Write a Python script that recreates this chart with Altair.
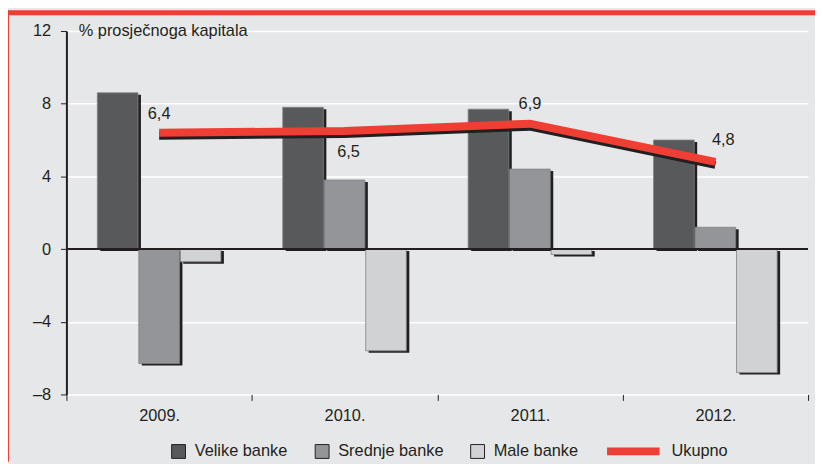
import altair as alt
import pandas as pd

godine = ["2009.", "2010.", "2011.", "2012."]
skupine = ["Velike banke", "Srednje banke", "Male banke"]
velike = [8.6, 7.8, 7.7, 6.0]
srednje = [-6.3, 3.8, 4.4, 1.2]
male = [-0.7, -5.6, -0.3, -6.8]
ukupno = [6.4, 6.5, 6.9, 4.8]
ukupno_oznake = ["6,4", "6,5", "6,9", "4,8"]
y_ticks = [-8, -4, 0, 4, 8, 12]

boje = ["#58595b", "#939598", "#d1d2d4"]
crvena = "#ef3e33"
tamna = "#231f20"
pozadina = "#e6e7e8"
FONT = "Liberation Sans"
FS = 16.5

rows = []
for i, g in enumerate(godine):
    for s, vals in zip(skupine, [velike, srednje, male]):
        rows.append({"godina": g, "skupina": s, "vrijednost": vals[i]})
bars_df = pd.DataFrame(rows)

line_df = pd.DataFrame({
    "godina": godine,
    "vrijednost": ukupno,
    "oznaka": ukupno_oznake,
    "serija": ["Ukupno"] * len(godine),
})

# label placement (style only)
label_style = {
    "2009.": (0, -19),
    "2010.": (4, 21),
    "2011.": (0, -20),
    "2012.": (8, -22),
}

x_enc = alt.X(
    "godina:N",
    sort=godine,
    scale=alt.Scale(domain=godine, paddingInner=0, paddingOuter=0),
    axis=alt.Axis(
        title=None, labelAngle=0, tickBand="extent", domain=False, grid=False,
        tickColor=tamna, tickSize=6, tickWidth=1, labelPadding=7,
        labelFontSize=FS, labelColor=tamna, labelFont=FONT,
    ),
)
y_enc = alt.Y(
    "vrijednost:Q",
    scale=alt.Scale(domain=[-8, 12], nice=False, zero=False),
    axis=alt.Axis(
        values=y_ticks,
        title="% prosječnoga kapitala", titleAngle=0, titleX=12, titleY=0,
        titleAlign="left", titleBaseline="middle", titleFontWeight="normal",
        titleFontSize=FS, titleColor=tamna, titleFont=FONT,
        grid=True, gridColor="white", gridWidth=1.5,
        domainColor=tamna, domainWidth=2,
        tickColor=tamna, tickSize=6, tickWidth=1,
        labelPadding=10, labelFontSize=FS, labelColor=tamna, labelFont=FONT,
        labelExpr="datum.value < 0 ? '–' + abs(datum.value) : datum.label",
    ),
)

base_bars = alt.Chart(bars_df)

shadow_bars = base_bars.mark_bar(
    color=tamna, yOffset=2, y2Offset=2
).encode(
    x=x_enc, y=y_enc,
    xOffset=alt.XOffset(
        "skupina:N", sort=skupine,
        scale=alt.Scale(
            domain=skupine, paddingInner=0.02, paddingOuter=0.745,
            range=[alt.ExprRef("3"), alt.ExprRef("bandwidth('x') + 3")],
        ),
    ),
)

bars = base_bars.mark_bar(stroke="#808285", strokeWidth=0.8).encode(
    x=x_enc, y=y_enc,
    xOffset=alt.XOffset(
        "skupina:N", sort=skupine,
        scale=alt.Scale(domain=skupine, paddingInner=0.02, paddingOuter=0.745),
    ),
    color=alt.Color(
        "skupina:N", sort=skupine,
        scale=alt.Scale(domain=skupine, range=boje),
        legend=alt.Legend(
            orient="none", legendX=105, legendY=416, direction="horizontal",
            title=None, symbolType="square", symbolSize=196,
            symbolStrokeColor=tamna, symbolStrokeWidth=1, symbolOpacity=1,
            labelOffset=8, columnPadding=25, labelFontSize=FS,
            labelColor=tamna, labelFont=FONT,
        ),
    ),
)

zero_rule = alt.Chart(pd.DataFrame({"vrijednost": [0]})).mark_rule(
    color=tamna, strokeWidth=2
).encode(y="vrijednost:Q")

line_shadow = alt.Chart(line_df).mark_line(
    color=tamna, strokeWidth=8, yOffset=3
).encode(x=alt.X("godina:N", sort=godine), y="vrijednost:Q")

line = alt.Chart(line_df).mark_line(strokeWidth=8).encode(
    x=alt.X("godina:N", sort=godine),
    y="vrijednost:Q",
    stroke=alt.Stroke(
        "serija:N",
        scale=alt.Scale(domain=["Ukupno"], range=[crvena]),
        legend=alt.Legend(
            orient="none", legendX=542, legendY=394, title=None,
            symbolType="stroke", symbolSize=2809, symbolStrokeWidth=8,
            labelOffset=8, labelFontSize=FS, labelColor=tamna, labelFont=FONT,
        ),
    ),
)

labels = []
for g in godine:
    dx, dy = label_style[g]
    labels.append(
        alt.Chart(line_df).transform_filter(alt.datum.godina == g).mark_text(
            dx=dx, dy=dy, fontSize=FS, color=tamna, font=FONT
        ).encode(x=alt.X("godina:N", sort=godine), y="vrijednost:Q", text="oznaka:N")
    )

header = alt.Chart(pd.DataFrame({"a": [0]})).mark_rule(
    color=crvena, strokeWidth=5
).encode(x=alt.value(-59), x2=alt.value(756), y=alt.value(-18.5))

left_edge = alt.Chart(pd.DataFrame({"a": [0]})).mark_rule(
    color=crvena, strokeWidth=1
).encode(x=alt.value(-58.5), y=alt.value(-21), y2=alt.value(435))

chart = alt.layer(
    shadow_bars, bars, zero_rule, line_shadow, line, *labels, header, left_edge
).resolve_scale(
    xOffset="independent"
).properties(
    width=749, height=367,
    autosize=alt.AutoSizeParams(type="none"),
    padding={"left": 59, "top": 21, "right": 7, "bottom": 68},
    background=pozadina,
).configure(font=FONT).configure_view(strokeWidth=0)

chart.save("out.html", embed_options={"renderer": "svg", "actions": False})
